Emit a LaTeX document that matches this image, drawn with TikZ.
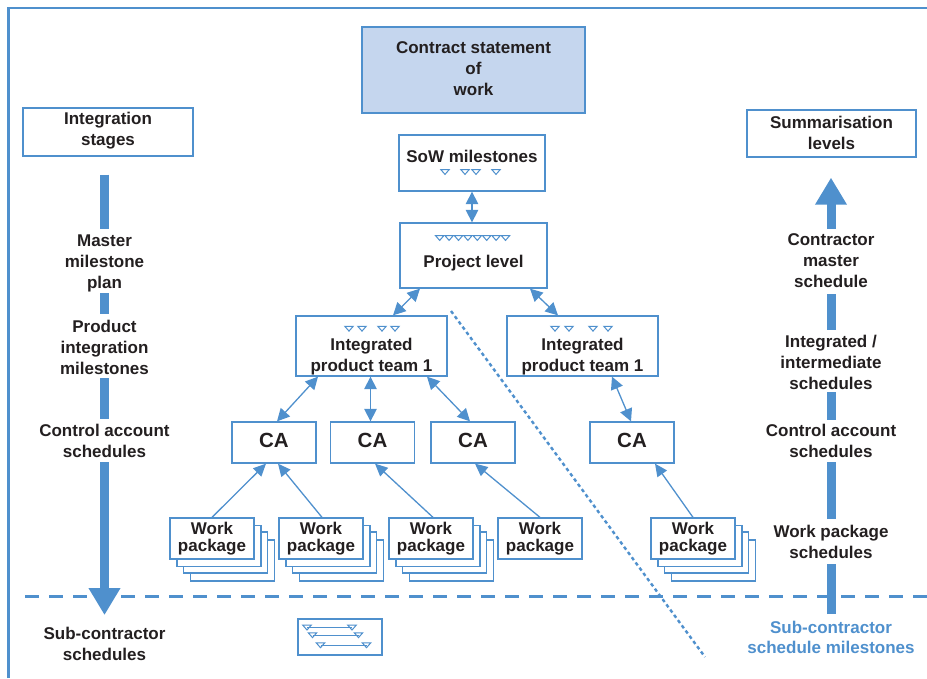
\documentclass[tikz,border=0pt]{standalone}
\usepackage{fontspec}
\setmainfont{Liberation Sans}
\usetikzlibrary{arrows.meta,calc}
\definecolor{lineblue}{RGB}{79,144,205}
\definecolor{topfill}{RGB}{197,214,238}
\definecolor{ink}{RGB}{35,31,32}

\tikzset{
  boxnode/.style={draw=lineblue, line width=1.3pt, fill=white, inner sep=0pt, rectangle},
  txt/.style={font=\fontsize{17}{21}\selectfont\bfseries, text=ink, align=center, inner sep=0pt},
  wptxt/.style={font=\fontsize{17}{17}\selectfont\bfseries, text=ink, align=center},
  catxt/.style={font=\fontsize{20.5}{24}\selectfont\bfseries, text=ink, inner sep=0pt},
  conn/.style={draw=lineblue, line width=1.3pt},
  dbl/.style={conn, {Triangle[length=12.5pt,width=12.5pt]}-{Triangle[length=12.5pt,width=12.5pt]}},
  sgl/.style={conn, -{Triangle[length=12.5pt,width=11.5pt]}},
  bar/.style={draw=lineblue, line width=9pt},
  bigtip/.style={-{Triangle[length=27pt,width=30pt]}},
  ms/.pic={\draw[lineblue, line width=1pt] (-4.2,-2.4) -- (4.2,-2.4) -- (0,2.4) -- cycle;},
  wpbox/.style={boxnode, minimum width=84pt, minimum height=41pt, wptxt},
  cabox/.style={boxnode, minimum width=84pt, minimum height=41pt},
}

% stack of work package sheets: #1 name of the front sheet, #2 its centre x
\newcommand{\wpstack}[2]{%
  \foreach \dx/\dy in {20.5/22,13.5/14,7/7.5}{%
    \filldraw[draw=lineblue, line width=1.3pt, fill=white]
      (#2-42+\dx,518+\dy) rectangle (#2+42+\dx,559+\dy);}
  \node[wpbox] (#1) at (#2,538.5) {Work\\package};}

\begin{document}
\begin{tikzpicture}[x=1pt,y=-1pt]
\useasboundingbox (0,0) rectangle (927,678);

% frame
\draw[lineblue, line width=2.4pt] (8.5,678) -- (8.5,8) -- (927,8);

% sub-contractor boundary and divider
\coordinate (dl) at (25,596);
\coordinate (dr) at (927,596);
\draw[lineblue, line width=3pt, dash pattern=on 14pt off 10pt] (dl) -- (dr);
\coordinate (ds) at (451,311);
\coordinate (de) at (705,657);
\draw[lineblue, line width=2.4pt, dash pattern=on 3.5pt off 3pt] (ds) -- (de);

% top statement of work
\node[boxnode, fill=topfill, minimum width=223pt, minimum height=86pt] (contract) at (473.5,70) {};
\node[txt] (contracttxt) at (473.5,69) {Contract statement\\of\\work};

% side headings
\node[boxnode, minimum width=170pt, minimum height=48pt] (lstages) at (108,132) {};
\node[txt] (lstagestxt) at (108,131) {Integration\\stages};
\node[boxnode, minimum width=169pt, minimum height=47pt] (rsum) at (831.5,133.5) {};
\node[txt] (rsumtxt) at (831.5,133) {Summarisation\\levels};

% SoW milestones
\node[boxnode, minimum width=146pt, minimum height=56pt] (sow) at (472,163) {};
\node[txt] (sowtxt) at (472,156) {SoW milestones};
\foreach \mx in {445,465,476,496} \pic at (\mx,172) {ms};

% project level
\node[boxnode, minimum width=147pt, minimum height=65pt] (proj) at (473.5,255.5) {};
\node[txt] (projtxt) at (473.5,263.5) {Project level};
\foreach \i in {0,...,7} \pic at (439.7+9.4*\i,238) {ms};

% integrated product teams
\node[boxnode, minimum width=151pt, minimum height=60pt] (iptL) at (371.5,346) {};
\node[txt] (iptLtxt) at (371.5,356.5) {Integrated\\product team 1};
\foreach \mx in {349,362,382,395} \pic at (\mx,328.7) {ms};
\node[boxnode, minimum width=151pt, minimum height=60pt] (iptR) at (582.5,346) {};
\node[txt] (iptRtxt) at (582.5,356.5) {Integrated\\product team 1};
\foreach \mx in {555,569,593,608} \pic at (\mx,328.7) {ms};

% control accounts
\node[cabox] (ca1) at (274,442.5) {};
\node[cabox] (ca2) at (372.5,442.5) {};
\node[cabox] (ca3) at (473,442.5) {};
\node[cabox] (ca4) at (632,442.5) {};
\node[catxt] (ca1txt) at (274,440.5) {CA};
\node[catxt] (ca2txt) at (372.5,440.5) {CA};
\node[catxt] (ca3txt) at (473,440.5) {CA};
\node[catxt] (ca4txt) at (632,440.5) {CA};

% work packages
\wpstack{wp1}{212}
\wpstack{wp2}{321}
\wpstack{wp3}{431}
\node[wpbox] (wp4) at (540,538.5) {Work\\package};
\wpstack{wp5}{693}

% sub-contractor schedule sketch
\node[boxnode, minimum width=84pt, minimum height=36pt] (sub) at (340,637) {};
\foreach \xa/\xb/\yy in {307/352/627.6, 312.5/358.5/635.2, 320.5/366.5/645.3}{
  \draw[lineblue, line width=1.3pt] (\xa,\yy) -- (\xb,\yy);
  \pic at (\xa,\yy) {ms};
  \pic at (\xb,\yy) {ms};}

% hierarchy connectors
\draw[dbl] (sow.south) -- (proj.north -| sow.south);
\draw[dbl] ([xshift=-53.5pt]proj.south) -- ([xshift=21.5pt]iptL.north);
\draw[dbl] ([xshift=56.5pt]proj.south) -- ([xshift=-24.5pt]iptR.north);
\draw[dbl] ([xshift=-53.5pt]iptL.south) -- ([xshift=3pt]ca1.north);
\draw[dbl] ([xshift=-1pt]iptL.south) -- ([xshift=-2pt]ca2.north);
\draw[dbl] ([xshift=55.5pt]iptL.south) -- ([xshift=-3pt]ca3.north);
\draw[dbl] ([xshift=29.5pt]iptR.south) -- ([xshift=-1pt]ca4.north);

\draw[sgl] (wp1.north) -- ([xshift=-8pt]ca1.south);
\draw[sgl] ([xshift=1pt]wp2.north) -- ([xshift=4pt]ca1.south);
\draw[sgl] ([xshift=2pt]wp3.north) -- ([xshift=2.5pt]ca2.south);
\draw[sgl] (wp4.north) -- ([xshift=2pt]ca3.south);
\draw[sgl] (wp5.north) -- ([xshift=23pt]ca4.south);

% integration stages column
\node[txt] (lmaster) at (104.5,263.5) {Master\\milestone\\plan};
\node[txt] (lprod) at (104.5,347) {Product\\integration\\milestones};
\node[txt] (lcas) at (104.5,440.5) {Control account\\schedules};
\node[txt] (lsub) at (104.5,644) {Sub-contractor\\schedules};
\draw[bar, shorten <=18pt, shorten >=6pt] (lstages.south -| lmaster.north) -- (lmaster.north);
\draw[bar, shorten <=1pt, shorten >=6pt] (lmaster.south) -- (lprod.north);
\draw[bar, shorten <=4pt, shorten >=5pt] (lprod.south) -- (lcas.north);
\draw[bar, bigtip, shorten <=5pt, shorten >=12pt] (lcas.south) -- (lsub.north);

% summarisation column
\node[txt] (rcms) at (831,261) {Contractor\\master\\schedule};
\node[txt] (rint) at (831,362) {Integrated /\\intermediate\\schedules};
\node[txt] (rcas) at (831,440.5) {Control account\\schedules};
\node[txt] (rwp) at (831,542) {Work package\\schedules};
\node[txt, text=lineblue, font=\fontsize{17}{20}\selectfont\bfseries] (rsub) at (831,637.5) {Sub-contractor\\schedule milestones};
\draw[bar, bigtip, shorten <=5pt, shorten >=20pt] (rcms.north) -- (rsum.south -| rcms.north);
\draw[bar, shorten <=5pt, shorten >=6pt] (rint.north) -- (rcms.south);
\draw[bar, shorten <=4pt, shorten >=3pt] (rcas.north) -- (rint.south);
\draw[bar, shorten <=6pt, shorten >=5pt] (rwp.north) -- (rcas.south);
\draw[bar, shorten <=7pt, shorten >=5pt] (rsub.north) -- (rwp.south);
\end{tikzpicture}
\end{document}
